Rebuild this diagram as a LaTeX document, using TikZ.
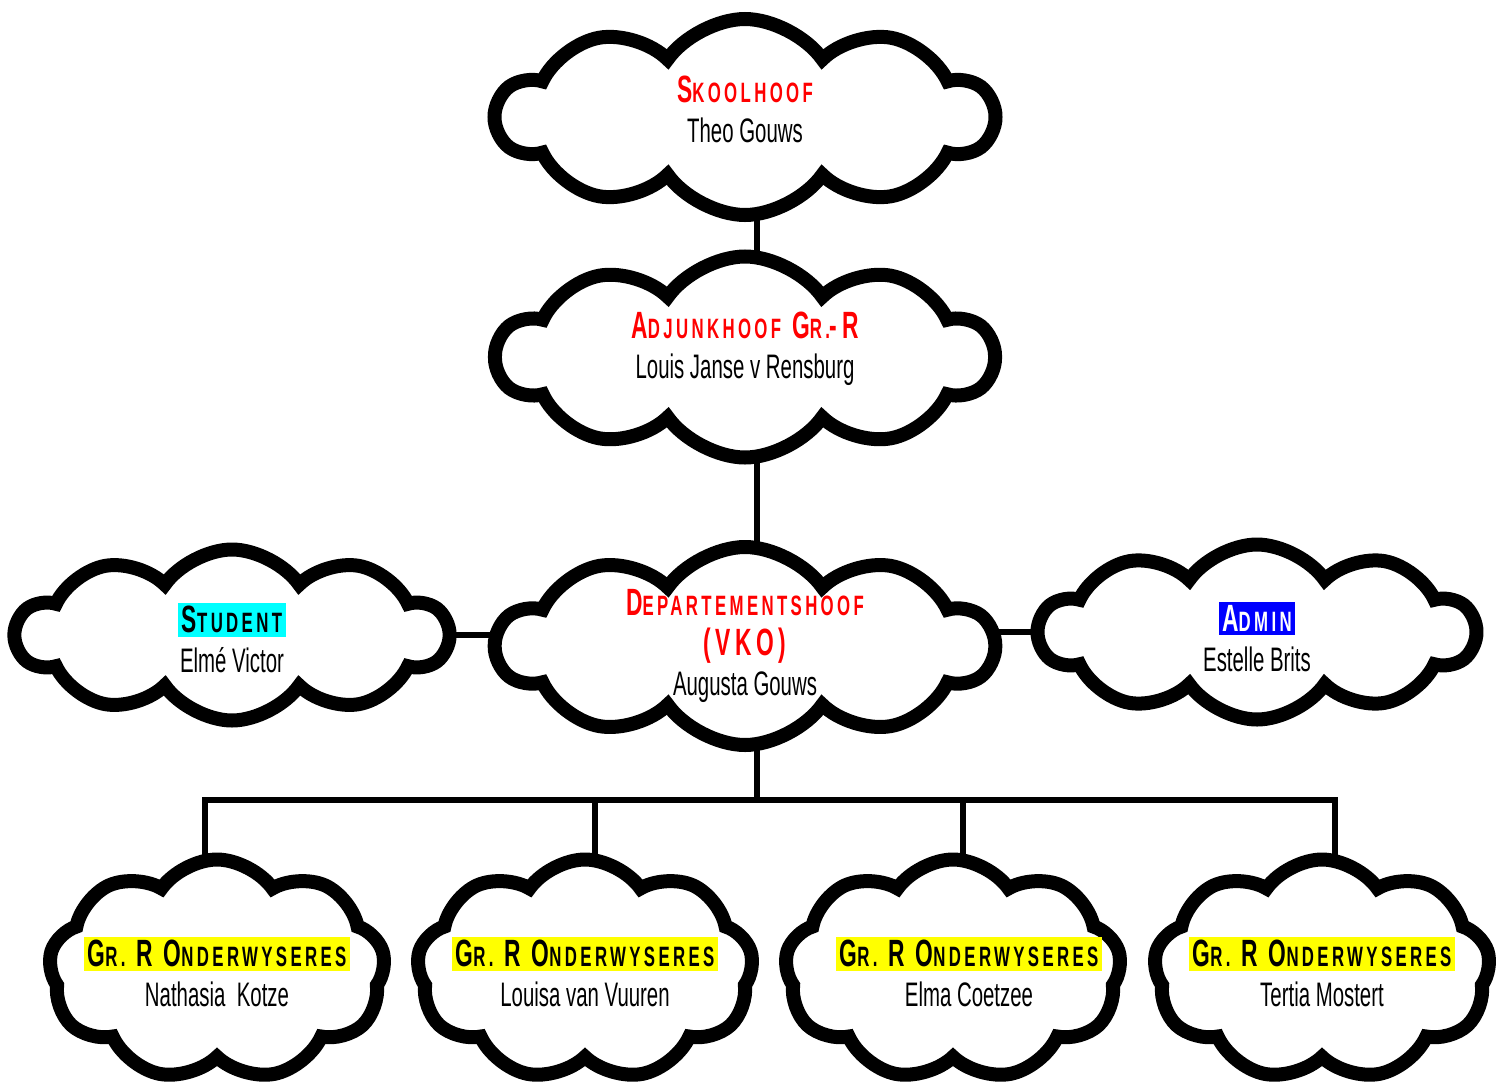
\documentclass[tikz,border=0pt]{standalone}
\usepackage{fontspec}
\setmainfont{Liberation Sans}
\newfontfamily\agency[FakeStretch=0.6]{Liberation Sans}
\usetikzlibrary{shapes.symbols, backgrounds}

% kleure en titel in klein hoofletters
\definecolor{rooi}{RGB}{255,0,0}
\definecolor{aqua}{RGB}{0,255,255}
\definecolor{blou}{RGB}{0,0,255}
\definecolor{geel}{RGB}{255,255,0}
\newcommand{\kop}[1]{{\agency\bfseries\addfontfeature{LetterSpace=12}\fontsize{38}{40}\selectfont #1}}
\newcommand{\kk}[1]{{\fontsize{28}{30}\selectfont #1}}
\newcommand{\rooi}[1]{\textcolor{rooi}{#1}}
\setlength{\fboxsep}{3.5pt}

\begin{document}
\begin{tikzpicture}[x=1pt, y=-1pt]
        \tikzstyle{wolk} = [cloud, cloud puffs=10, cloud puff arc=110, shape border rotate=18, cloud ignores aspect, draw=black, line width=14pt, fill=white, inner sep=0pt]
        \tikzstyle{klein} = [wolk, cloud puffs=9, shape border rotate=30, minimum width=336pt, minimum height=221pt]
        \tikzstyle{link} = [line width=6pt]
        \tikzstyle{tekst} = [align=center, inner sep=0pt, font=\agency\fontsize{34}{40}\selectfont]
        \useasboundingbox (0,0) rectangle (1509,1090);
        % wolke
        \node[wolk, minimum width=496pt, minimum height=196pt] (skool) at (745,117) {};
        \node[wolk, minimum width=496pt, minimum height=201pt] (adjunk) at (745,357) {};
        \node[wolk, minimum width=496pt, minimum height=198pt] (dept) at (745,646) {};
        \node[wolk, minimum width=431pt, minimum height=171pt] (student) at (232,635) {};
        \node[wolk, minimum width=435pt, minimum height=175pt] (admin) at (1257,632) {};
        \node[klein] (gr1) at (217,970) {};
        \node[klein] (gr2) at (585,970) {};
        \node[klein] (gr3) at (953,970) {};
        \node[klein] (gr4) at (1322,970) {};
        % teks
        \node[tekst] (skooltxt) at (745,109) {\rooi{\kop{S\kk{KOOLHOOF}}}\\Theo Gouws};
        \node[tekst] (adjunktxt) at (745,349) {\rooi{\kop{A\kk{DJUNKHOOF} G\kk{R.}-R}}\\Louis Janse v Rensburg};
        \node[tekst] (depttxt) at (745,646) {\rooi{\kop{D\kk{EPARTEMENTSHOOF}}}\\\rooi{\kop{(VKO)}}\\Augusta Gouws};
        \node[tekst] (studenttxt) at (232,638) {\colorbox{aqua}{\kop{S\kk{TUDENT}}}\\Elmé Victor};
        \node[tekst] (admintxt) at (1257,637) {\colorbox{blou}{\color{white}\kop{A\kk{DMIN}}}\\Estelle Brits};
        \node[tekst] (gr1txt) at (217,972) {\colorbox{geel}{\kop{G\kk{R.} R O\kk{NDERWYSERES}}}\\Nathasia~\ Kotze};
        \node[tekst] (gr2txt) at (585,972) {\colorbox{geel}{\kop{G\kk{R.} R O\kk{NDERWYSERES}}}\\Louisa van Vuuren};
        \node[tekst] (gr3txt) at (969,972) {\colorbox{geel}{\kop{G\kk{R.} R O\kk{NDERWYSERES}}}\\Elma Coetzee};
        \node[tekst] (gr4txt) at (1322,972) {\colorbox{geel}{\kop{G\kk{R.} R O\kk{NDERWYSERES}}}\\Tertia Mostert};
        % lyne agter die wolke
        \begin{scope}[on background layer]
          \coordinate (bus) at (757,800);
          \draw[link] ([xshift=12pt]skool.center) -- ([xshift=12pt]adjunk.center);
          \draw[link] ([xshift=12pt]adjunk.center) -- ([xshift=12pt]dept.center);
          \draw[link] ([xshift=12pt]dept.center) -- (bus);
          \draw[link] (student.center) -- (student.center -| dept.center);
          \draw[link] (admin.center) -- (admin.center -| dept.center);
          \foreach \n/\dx in {gr1/-12, gr2/10, gr3/10, gr4/13}
            \draw[link] ([xshift=\dx pt]\n.center) |- (bus);
        \end{scope}
      \end{tikzpicture}
\end{document}
